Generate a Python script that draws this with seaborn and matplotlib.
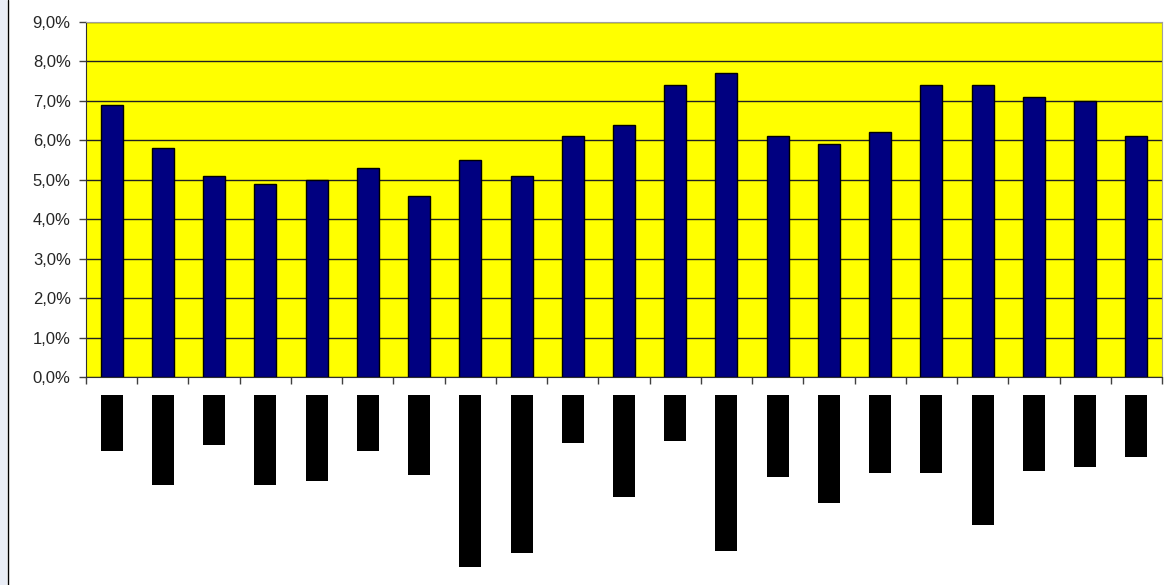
import matplotlib
matplotlib.use("Agg")
import matplotlib.pyplot as plt
import matplotlib.patches as mpatches
import matplotlib.ticker as mticker
import seaborn as sns
import pandas as pd
import numpy as np

# data
categories = [str(i) for i in range(1, 22)]
values = [6.9, 5.8, 5.1, 4.9, 5.0, 5.3, 4.6, 5.5, 5.1, 6.1, 6.4,
          7.4, 7.7, 6.1, 5.9, 6.2, 7.4, 7.4, 7.1, 7.0, 6.1]
# length of the black (masked) label blocks under the axis
label_blocks = [56, 90, 50, 90, 86, 56, 80, 172, 158, 48, 102,
                46, 156, 82, 108, 78, 78, 130, 76, 72, 62]

df = pd.DataFrame({'cat': categories, 'value': values, 'block': label_blocks})

sns.set_style('white')
plt.rcParams['font.family'] = ['Liberation Sans', 'DejaVu Sans']

W, H = 1176, 585
fig = plt.figure(figsize=(W / 100, H / 100), dpi=100)

# left border strip
fig.patches.append(mpatches.Rectangle((0, 0), 7 / W, 1, transform=fig.transFigure,
                                      facecolor='#e9edf6', edgecolor='none', zorder=0))
fig.lines.append(plt.Line2D([7.5 / W, 7.5 / W], [0, 1], transform=fig.transFigure,
                            color='black', linewidth=1))

#main plot area
ax = fig.add_axes([86 / W, 1 - 377 / H, (1162 - 86) / W, (377 - 22) / H])
ax.set_facecolor('#ffff00')
sns.barplot(x='cat', y='value', data=df, ax=ax, color='#000080', width=0.43,
            edgecolor='black', linewidth=1, saturation=1, zorder=3)
ax.set_ylim(0, 9)
ax.set_xlim(-0.5, len(categories) - 0.5)
ax.set_yticks(np.arange(0, 9.5, 1))
ax.yaxis.set_major_formatter(mticker.FuncFormatter(lambda v, p: f'{v:.1f}%'.replace('.', ',')))
ax.grid(axis='y', color='#202020', linewidth=1, zorder=1)
ax.set_axisbelow(True)
ax.set_xticks(np.arange(-0.5, len(categories), 1))
ax.set_xticklabels([])
ax.set_xlabel('')
ax.set_ylabel('')
ax.tick_params(axis='y', direction='out', length=5, width=1, color='#404040',
               labelsize=12, pad=6, left=True)
ax.tick_params(axis='x', direction='out', length=5, width=1, color='#404040', bottom=True)
for s in ['top', 'right']:
    ax.spines[s].set_color('#a0a0a0')
for s in ['left', 'bottom']:
    ax.spines[s].set_color('#303030')

# masked category labels
ax2 = fig.add_axes([86 / W, 1 - 580 / H, (1162 - 86) / W, (580 - 395) / H])
sns.barplot(x='cat', y='block', data=df, ax=ax2, color='black', width=0.43,
            linewidth=0, saturation=1)
ax2.set_ylim(185, 0)
ax2.set_xlim(-0.5, len(categories) - 0.5)
ax2.axis('off')

plt.savefig('out.png', dpi=100)
